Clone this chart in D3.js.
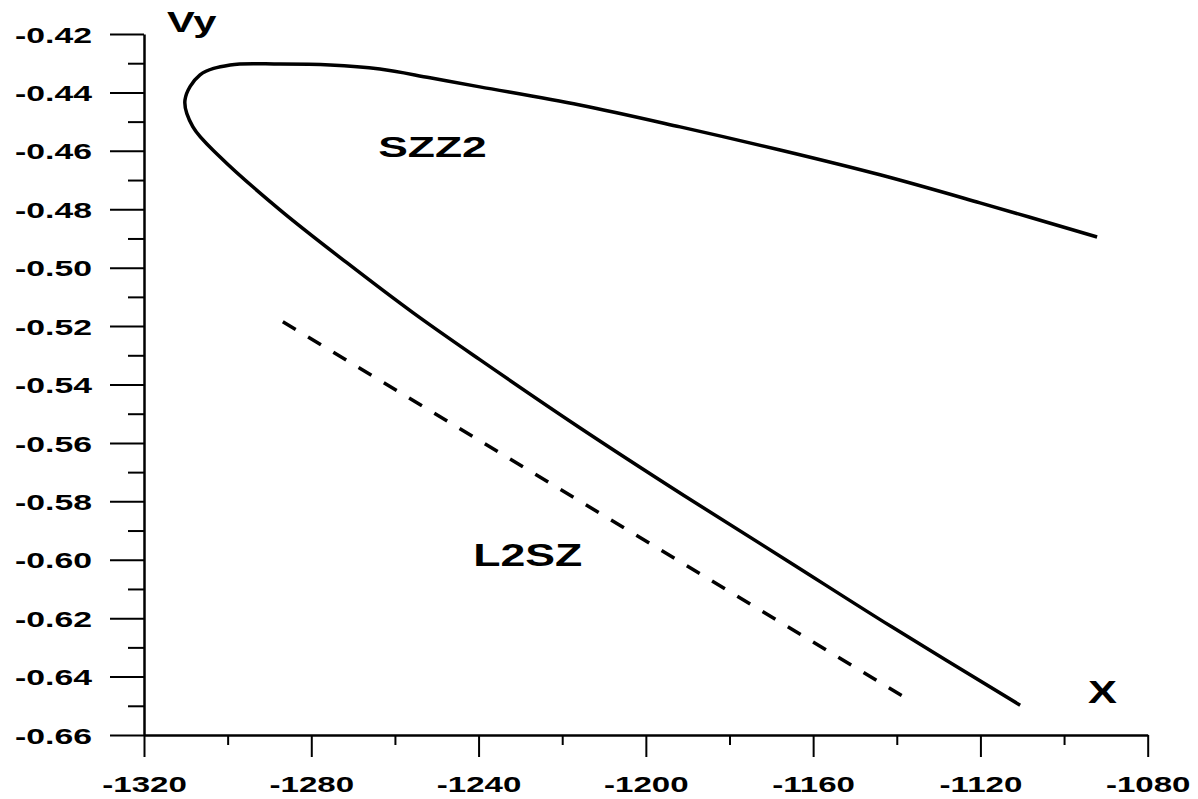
<!DOCTYPE html>
<meta charset="utf-8">
<head>
  <script src="https://cdn.jsdelivr.net/npm/d3@7"></script>
  <style>
    body { margin: 0; background: #fff; }
    text { font-family: "Liberation Sans", Arial, sans-serif; font-weight: bold; fill: #000; }
    .axis path, .axis line { stroke: #000; fill: none; }
  </style>
</head>
<body>
<script>

// datos
var xTicks = [-1320, -1280, -1240, -1200, -1160, -1120, -1080];
var xTickLabels = ["-1320", "-1280", "-1240", "-1200", "-1160", "-1120", "-1080"];
var xMinor = [-1300, -1260, -1220, -1180, -1140, -1100];

var yTicks = [-0.66, -0.64, -0.62, -0.60, -0.58, -0.56, -0.54, -0.52, -0.50, -0.48, -0.46, -0.44, -0.42];
var yTickLabels = ["-0.66", "-0.64", "-0.62", "-0.60", "-0.58", "-0.56", "-0.54", "-0.52", "-0.50", "-0.48", "-0.46", "-0.44", "-0.42"];
var yMinor = [-0.65, -0.63, -0.61, -0.59, -0.57, -0.55, -0.53, -0.51, -0.49, -0.47, -0.45, -0.43];

// curva SZZ2 (solida)
var szzX = [-1092.1, -1120.1, -1144.0, -1167.9, -1191.8, -1215.8, -1239.7, -1251.6, -1263.6, -1275.5, -1287.5, -1299.4, -1306.6, -1310.2,
            -1308.3, -1301.8, -1287.5, -1271.5, -1255.7, -1239.7, -1215.8, -1190.9, -1166.0, -1141.4, -1110.5];
var szzY = [-0.4895, -0.4778, -0.4682, -0.4597, -0.4518, -0.4443, -0.4381, -0.4350, -0.4320, -0.4306, -0.4303, -0.4306, -0.4340, -0.4426,
            -0.4518, -0.4621, -0.4802, -0.4983, -0.5154, -0.5315, -0.5548, -0.5780, -0.6005, -0.6228, -0.6498];

// recta L2SZ (segmentada)
var l2szX = [-1286.8, -1138.5];
var l2szY = [-0.5185, -0.6468];

var curveNames = ["SZZ2", "L2SZ"];
var axisNames = ["X", "Vy"];

var W = 1198, H = 799;
var x = d3.scaleLinear().domain([-1320, -1080]).range([144, 1147.7]);
var y = d3.scaleLinear().domain([-0.66, -0.42]).range([735, 34]);

var svg = d3.select("body").append("svg")
  .attr("width", W)
  .attr("height", H);

// ejes: ticks mayores
var yAxis = svg.append("g")
  .attr("class", "axis")
  .attr("transform", "translate(" + x(-1320) + ",0)")
  .call(d3.axisLeft(y).tickValues(yTicks).tickSize(34).tickSizeOuter(0)
    .tickFormat(function(d, i) { return yTickLabels[i]; }));

yAxis.select(".domain").attr("stroke-width", 2.5);
yAxis.selectAll(".tick line").attr("stroke-width", 2);
yAxis.selectAll(".tick text")
  .attr("font-size", 22.5)
  .attr("x", -52 / 1.5)
  .attr("dy", "0.36em")
  .attr("transform", "scale(1.5,1)");

var xAxis = svg.append("g")
  .attr("class", "axis")
  .attr("transform", "translate(0," + y(-0.66) + ")")
  .call(d3.axisBottom(x).tickValues(xTicks).tickSize(22).tickSizeOuter(0)
    .tickFormat(function(d, i) { return xTickLabels[i]; }));

xAxis.select(".domain").attr("stroke-width", 2.5);
xAxis.selectAll(".tick line").attr("stroke-width", 2);
xAxis.selectAll(".tick text")
  .attr("font-size", 22.5)
  .attr("y", 57)
  .attr("dy", 0)
  .attr("transform", "scale(1.47,1)");

// ticks menores
var yMin = svg.append("g")
  .attr("class", "axis")
  .attr("transform", "translate(" + x(-1320) + ",0)")
  .call(d3.axisLeft(y).tickValues(yMinor).tickSize(16).tickFormat(""));
yMin.select(".domain").remove();
yMin.selectAll(".tick line").attr("stroke-width", 2);

var xMin = svg.append("g")
  .attr("class", "axis")
  .attr("transform", "translate(0," + y(-0.66) + ")")
  .call(d3.axisBottom(x).tickValues(xMinor).tickSize(10).tickFormat(""));
xMin.select(".domain").remove();
xMin.selectAll(".tick line").attr("stroke-width", 2);

// curvas
var szz = szzX.map(function(d, i) { return [d, szzY[i]]; });
var l2sz = l2szX.map(function(d, i) { return [d, l2szY[i]]; });

var line = d3.line()
  .x(function(d) { return x(d[0]); })
  .y(function(d) { return y(d[1]); })
  .curve(d3.curveCatmullRom.alpha(0.5));

svg.append("path")
  .datum(szz)
  .attr("d", line)
  .attr("fill", "none")
  .attr("stroke", "#000")
  .attr("stroke-width", 3.5);

svg.append("path")
  .datum(l2sz)
  .attr("d", line)
  .attr("fill", "none")
  .attr("stroke", "#000")
  .attr("stroke-width", 3.5)
  .attr("stroke-dasharray", "15,14.5");

// etiquetas
var pegar = function(txt, px, py, fs, sx) {
  svg.append("text")
    .attr("transform", "translate(" + px + "," + py + ") scale(" + sx + ",1)")
    .attr("font-size", fs)
    .text(txt);
};

pegar(curveNames[0], x(-1264.0), y(-0.4621), 30, 1.48);
pegar(curveNames[1], x(-1241.3), y(-0.6023), 31, 1.44);
pegar(axisNames[1], x(-1320) + 23, 32, 30, 1.39);
pegar(axisNames[0], 1088, 703, 31, 1.4);

</script>
</body>
